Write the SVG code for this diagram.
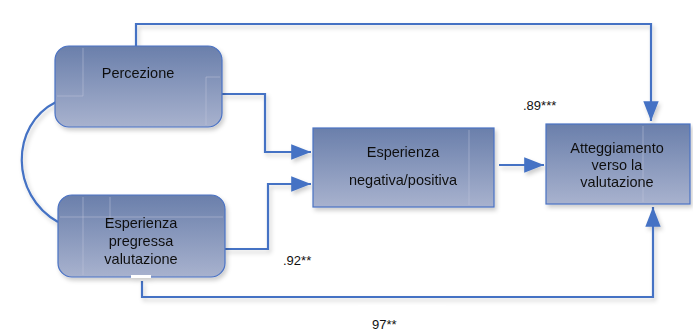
<svg xmlns="http://www.w3.org/2000/svg" width="693" height="333" viewBox="0 0 693 333">
<style>
.n{fill:url(#g);stroke:#4a72c4;stroke-width:1.2}
.c{fill:none;stroke:#4472c4;stroke-width:2.2}
.t{font-family:"Liberation Sans",Arial,sans-serif;font-size:14.5px;fill:#111;text-anchor:middle}
.l{font-family:"Liberation Sans",Arial,sans-serif;font-size:13px;fill:#111}
.in{fill:none;stroke:#c2c9dc;stroke-width:0.8;opacity:0.6}
</style>
<defs>
<linearGradient id="g" x1="0" y1="0" x2="0" y2="1">
<stop offset="0" stop-color="#6a7fab"/>
<stop offset="1" stop-color="#a8b2ce"/>
</linearGradient>
<filter id="s" x="-10%" y="-10%" width="130%" height="140%">
<feDropShadow dx="2" dy="3" stdDeviation="2" flood-color="#000" flood-opacity="0.2"/>
</filter>
<marker id="a" viewBox="0 0 10 10" refX="10" refY="5" markerWidth="9" markerHeight="7" orient="auto" markerUnits="strokeWidth" preserveAspectRatio="none">
<path d="M0,0L10,5L0,10z" fill="#4472c4"/>
</marker>
</defs>
<g id="connectors" filter="url(#s)">
<path class="c" d="M136,46V24H651V121" marker-end="url(#a)"/>
<path class="c" d="M142,281V297H653V207" marker-end="url(#a)"/>
<path class="c" d="M222,94H265V152H311" marker-end="url(#a)"/>
<path class="c" d="M225,249H268V184H311" marker-end="url(#a)"/>
<path class="c" d="M499,165H544" marker-end="url(#a)"/>
<path class="c" d="M56,102C10,125 10,195 58,222"/>
</g>
<g id="percezione" filter="url(#s)">
<rect class="n" x="55" y="46" width="167" height="81" rx="14"/>
<path class="in" d="M57,96H83V48M220,77H206V125"/>
<text class="t" x="138" y="78">Percezione</text>
</g>
<g id="esperienza-pregressa" filter="url(#s)">
<rect class="n" x="58" y="195" width="167" height="82" rx="14"/>
<path class="in" d="M60,217H223M83,197V275M110,197V230"/>
<rect x="131" y="275" width="20" height="3" fill="#fff"/>
<text class="t" x="141" y="228">Esperienza</text>
<text class="t" x="141" y="246">pregressa</text>
<text class="t" x="141" y="264">valutazione</text>
</g>
<g id="esperienza-negativa" filter="url(#s)">
<rect class="n" x="313" y="128" width="181" height="79" rx="0"/>
<path class="in" d="M469,130V205"/>
<text class="t" x="403" y="157">Esperienza</text>
<text class="t" x="403" y="185">negativa/positiva</text>
</g>
<g id="atteggiamento" filter="url(#s)">
<rect class="n" x="546" y="124" width="144" height="80" rx="0"/>
<path class="in" d="M643,126V202"/>
<text class="t" x="617" y="153">Atteggiamento</text>
<text class="t" x="617" y="170">verso la</text>
<text class="t" x="617" y="187">valutazione</text>
</g>
<g id="labels">
<text class="l" x="523" y="110">.89***</text>
<text class="l" x="283" y="265">.92**</text>
<rect x="358" y="305" width="88" height="28" fill="#fff"/>
<text class="l" x="372" y="329">97**</text>
</g>
</svg>
